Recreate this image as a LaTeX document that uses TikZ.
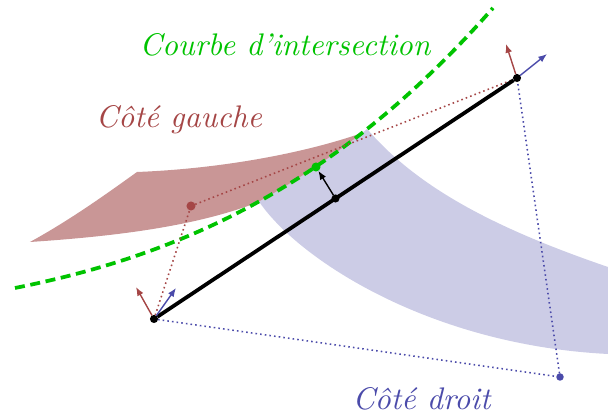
\documentclass[tikz,border=0pt]{standalone}
\usepackage{fontspec}
\usepackage{tikz}
\usetikzlibrary{arrows.meta}
\usepackage{xcolor}
\definecolor{gauche}{RGB}{165,70,70}
\definecolor{gauchefill}{RGB}{201,150,150}
\definecolor{droit}{RGB}{75,75,170}
\definecolor{droitfill}{RGB}{204,204,230}
\definecolor{courbe}{RGB}{0,195,0}

\begin{document}
\begin{tikzpicture}[x=0.32pt,y=-0.32pt]
  \tikzset{pointvertex/.style={circle,fill=black,draw=none,inner sep=0pt,outer sep=0pt,minimum size=2.6pt}}
  \tikzset{segmentedge/.style={draw=black,line width=1.2pt}}
  \tikzset{vectoredge/.style={line width=0.45pt,-{Latex[length=2.8pt,width=2.2pt]}}}
  \tikzset{projedge/.style={line width=0.5pt,densely dotted}}
  \tikzset{courbeedge/.style={draw=courbe,line width=1.2pt,dash pattern=on 3.2pt off 1.8pt}}
  \tikzset{sidelabel/.style={font=\itshape,inner sep=0pt,anchor=base}}
  \useasboundingbox (0,0) rectangle (608,418);
  % surfaces, cut along the intersection curve
  \begin{scope}
    \clip (15.0,288.0) .. controls (175.0,256.0) and (333.0,190.0) .. (493.0,8.0)
      -- (700.0,8.0) -- (700.0,500.0) -- (15.0,500.0) -- cycle;
    \fill[droitfill] (345.0,103.0) -- (368.0,130.0) .. controls (420.0,190.0) and (500.0,230.0) .. (608.0,267.0)
      -- (608.0,354.0) .. controls (430.0,345.0) and (300.0,260.0) .. (260.0,203.0) -- (246.0,183.0) -- cycle;
  \end{scope}
  \begin{scope}
    \clip (15.0,288.0) .. controls (175.0,256.0) and (333.0,190.0) .. (493.0,8.0)
      -- (-50.0,-50.0) -- (-50.0,288.0) -- cycle;
    \fill[gauchefill] (30.0,242.0) .. controls (70.0,220.0) and (105.0,195.0) .. (137.0,172.0)
      .. controls (240.0,168.0) and (335.0,146.0) .. (385.0,124.0) -- (330.0,210.0) -- (275.0,195.0)
      .. controls (210.0,225.0) and (120.0,236.0) .. (30.0,242.0) -- cycle;
  \end{scope}
  \node[pointvertex] (A) at (154.0,319.0) {};
  \node[pointvertex] (B) at (517.0,78.0) {};
  \node[pointvertex] (M) at (335.5,198.5) {};
  \node[pointvertex,fill=gauche,minimum size=2.9pt] (R) at (191.0,206.0) {};
  \node[pointvertex,fill=droit,minimum size=2.4pt] (D) at (560.0,377.0) {};
  \coordinate (c0) at (15.0,288.0);
  \coordinate (c1) at (493.0,8.0);
  \draw[courbeedge] (c0) .. controls (175.0,256.0) and (333.0,190.0) .. (c1);
  \node[pointvertex,fill=courbe,minimum size=2.9pt] (G) at (316.0,167.0) {};
  \draw[projedge,gauche] (A) -- (R);
  \draw[projedge,gauche] (R) -- (B);
  \draw[projedge,droit] (A) -- (D);
  \draw[projedge,droit] (D) -- (B);
  \draw[segmentedge] (A) -- (B);
  \draw[vectoredge,black] (M) -- (G);
  \coordinate (ga) at (136.0,287.0);
  \coordinate (da) at (176.0,288.0);
  \coordinate (gb) at (506.0,44.0);
  \coordinate (db) at (547.0,54.0);
  \draw[vectoredge,gauche] (A) -- (ga);
  \draw[vectoredge,droit] (A) -- (da);
  \draw[vectoredge,gauche] (B) -- (gb);
  \draw[vectoredge,droit] (B) -- (db);
  \node[sidelabel,text=courbe] (lc) at (285.0,55.5) {Courbe d'intersection};
  \node[sidelabel,text=gauche] (lg) at (179.0,128.0) {Côté gauche};
  \node[sidelabel,text=droit] (ld) at (421.5,410.0) {Côté droit};
\end{tikzpicture}
\end{document}
